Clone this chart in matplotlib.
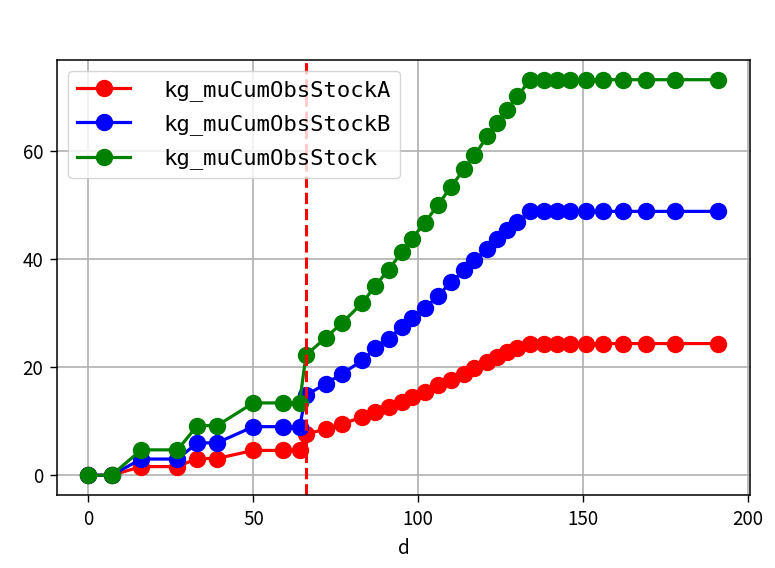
import matplotlib
matplotlib.use("Agg")
import matplotlib.pyplot as plt

plt.rcParams["font.family"] = ["Noto Sans CJK SC", "DejaVu Sans"]
plt.rcParams["axes.unicode_minus"] = False

days = [0, 7, 16, 27, 33, 39, 50, 59, 64, 66, 72, 77, 83, 87, 91, 95, 98, 102,
        106, 110, 114, 117, 121, 124, 127, 130, 134, 138, 142, 146, 151, 156,
        162, 169, 178, 191]
stock_a = [0, 0, 1.6, 1.6, 3.1, 3.1, 4.6, 4.6, 4.6, 7.6, 8.6, 9.5, 10.8, 11.7,
           12.6, 13.6, 14.5, 15.4, 16.7, 17.7, 18.8, 19.8, 21.0, 21.9, 22.8,
           23.6, 24.4, 24.4, 24.4, 24.4, 24.4, 24.4, 24.4, 24.4, 24.4, 24.4]
stock_b = [0, 0, 3.0, 3.0, 6.0, 6.0, 9.0, 9.0, 9.0, 14.8, 17.0, 18.8, 21.3,
           23.5, 25.3, 27.5, 29.1, 30.9, 33.3, 35.8, 38.0, 39.8, 42.0, 43.8,
           45.4, 46.9, 48.9, 48.9, 48.9, 48.9, 48.9, 48.9, 48.9, 48.9, 48.9, 48.9]
stock_total = [0, 0, 4.7, 4.7, 9.2, 9.2, 13.4, 13.4, 13.4, 22.3, 25.5, 28.3,
               31.9, 35.1, 38.1, 41.3, 43.8, 46.8, 50.1, 53.5, 56.8, 59.3, 62.8,
               65.2, 67.7, 70.2, 73.3, 73.3, 73.3, 73.3, 73.3, 73.3, 73.3, 73.3,
               73.3, 73.3]
marker_day = 66

series = [
    ("kg_muCumObsStockA", stock_a, "red"),
    ("kg_muCumObsStockB", stock_b, "blue"),
    ("kg_muCumObsStock", stock_total, "green"),
]

fig = plt.figure(figsize=(7.75, 5.68), dpi=100, facecolor="white")
ax = fig.add_axes([0.0735, 0.1285, 0.894, 0.766])

for label, values, color in series:
    ax.plot(days, values, "-o", color=color, linewidth=2.3, markersize=11.5, label=label)

ax.axvline(marker_day, color="red", linestyle="--", linewidth=2.2)

ax.grid(True, color="#b0b0b0", linewidth=1.2)
ax.set_xticks([0, 50, 100, 150, 200])
ax.set_yticks([0, 20, 40, 60])
ax.tick_params(labelsize=13.5, width=1.0, length=5, pad=5)
for spine in ax.spines.values():
    spine.set_linewidth(1.1)
ax.set_xlabel("d", fontsize=13.5, labelpad=6)

ax.legend(
    loc="upper left",
    prop={"family": "DejaVu Sans Mono", "size": 16},
    handlelength=2.4,
    handletextpad=1.5,
    labelspacing=0.6,
    borderaxespad=0.5,
)

fig.savefig("out.png", dpi=100, facecolor="white")
